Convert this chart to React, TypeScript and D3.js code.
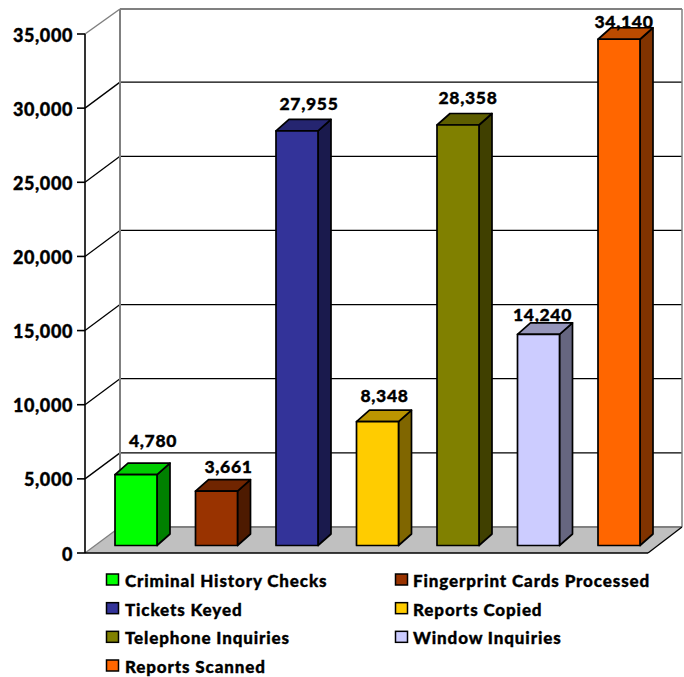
import React from "react";
import * as d3 from "d3";

const categories = ["Criminal History Checks", "Fingerprint Cards Processed", "Tickets Keyed", "Reports Copied", "Telephone Inquiries", "Window Inquiries", "Reports Scanned"];
const values = [4780, 3661, 27955, 8348, 28358, 14240, 34140];
const frontColors = ["#00ff00", "#993300", "#333399", "#ffcc00", "#808000", "#ccccff", "#ff6600"];
const topColors = ["#00cc00", "#702500", "#252570", "#bb9500", "#5e5e00", "#9696bb", "#bb4b00"];
const sideColors = ["#008000", "#4d1a00", "#1a1a4d", "#806600", "#404000", "#666680", "#803300"];
const ticks = [0, 5000, 10000, 15000, 20000, 25000, 30000, 35000];
const FONT = "Lato, 'Open Sans', sans-serif";

// hand-placed data label nudges (as in the reference)
const labelShiftX = [17, 12, 12, 7, 10, 4, 5];
const labelShiftY = [28, 18, 21, 20, 21, 13, 11];

const y = d3.scaleLinear().domain([0, 35000]).range([553, 34]);
const barY = d3.scaleLinear().domain([0, 35000]).range([545.5, 26.5]);
const barX = d3.scaleLinear().domain([0, 6]).range([115, 598]);
const legX = d3.scaleOrdinal<number, number>().domain([0, 1]).range([106.5, 395.5]);
const legY = d3.scaleLinear().domain([0, 3]).range([581, 667]);
const fmt = d3.format(",");
const L = 85, BX = 120, R = 648, BR = 682, D = 26, bw = 42, dx = 13, dy = 11.5;

const textStyle = { fontWeight: 900, fontFamily: FONT, fill: "#000", stroke: "#000", strokeWidth: 0.35 };

function Bar({ i }: { i: number }) {
  const x0 = barX(i);
  const x1 = x0 + bw;
  const t = barY(values[i]);
  const b = barY(0);
  const stroke = { stroke: "#000", strokeWidth: 1.7, strokeLinejoin: "round" as const };
  return (
    <g>
      <polygon points={`${x1},${t} ${x1 + dx},${t - dy} ${x1 + dx},${b - dy} ${x1},${b}`} fill={sideColors[i]} {...stroke} />
      <polygon points={`${x0},${t} ${x0 + dx},${t - dy} ${x1 + dx},${t - dy} ${x1},${t}`} fill={topColors[i]} {...stroke} />
      <rect x={x0} y={t} width={bw} height={b - t} fill={frontColors[i]} {...stroke} />
    </g>
  );
}

function BarLabel({ i }: { i: number }) {
  return (
    <text x={barX(i) + bw / 2 + labelShiftX[i]} y={barY(values[i]) - labelShiftY[i]} textAnchor="middle" fontSize={17.5} letterSpacing={0.7} {...textStyle}>{fmt(values[i])}</text>
  );
}

export default function App() {
  return (
    <svg width={684} height={677} style={{ position: "absolute", left: 0, top: 0, background: "#fff" }}>
      <polygon points={`${L},${y(0)} ${BX},${y(0) - D} ${BR},${y(0) - D} ${R},${y(0)}`} fill="#c0c0c0" />
      {ticks.slice(1, -1).map(v => (
        <g key={v}>
          <line x1={L} y1={y(v)} x2={BX} y2={y(v) - D} stroke="#000" strokeWidth={1.3} />
          <line x1={BX} y1={y(v) - D} x2={BR} y2={y(v) - D} stroke="#000" strokeWidth={1.3} />
        </g>
      ))}
      <line x1={L} y1={y(35000)} x2={BX} y2={y(35000) - D + 1} stroke="#808080" strokeWidth={1.5} />
      <line x1={BX} y1={y(35000) - D + 1} x2={BR} y2={y(35000) - D + 1} stroke="#808080" strokeWidth={2} />
      <line x1={BX} y1={y(35000) - D + 1} x2={BX} y2={y(0) - D} stroke="#808080" strokeWidth={2} />
      <line x1={BR} y1={y(35000) - D + 1} x2={BR} y2={y(0) - D} stroke="#808080" strokeWidth={1.5} />
      <line x1={BX} y1={y(0) - D} x2={BR} y2={y(0) - D} stroke="#808080" strokeWidth={2} />
      <line x1={L} y1={y(0)} x2={BX} y2={y(0) - D} stroke="#808080" strokeWidth={1.3} />
      <line x1={R} y1={y(0)} x2={BR} y2={y(0) - D} stroke="#000" strokeWidth={1.3} />
      <line x1={L} y1={y(35000)} x2={L} y2={y(0)} stroke="#000" strokeWidth={1.6} />
      <line x1={L} y1={y(0)} x2={R} y2={y(0)} stroke="#000" strokeWidth={1.6} />
      {ticks.map(v => (
        <g key={v}>
          <line x1={77} y1={y(v)} x2={L} y2={y(v)} stroke="#000" strokeWidth={1.6} />
          <text x={73} y={y(v) + 7.5} textAnchor="end" fontSize={18} letterSpacing={0.6} {...textStyle}>{fmt(v)}</text>
        </g>
      ))}
      {values.map((_, i) => <Bar key={i} i={i} />)}
      {values.map((_, i) => <BarLabel key={i} i={i} />)}
      {categories.map((c, i) => {
        const row = Math.floor(i / 2);
        const cx = legX(i % 2);
        return (
          <g key={c}>
            <rect x={cx} y={legY(row) - 7} width={12} height={11} fill={frontColors[i]} stroke="#000" strokeWidth={1.5} />
            <text x={i % 2 ? 413 : 125} y={legY(row) + 6} fontSize={17} letterSpacing={i % 2 ? 0.87 : 0.86} {...textStyle}>{c}</text>
          </g>
        );
      })}
    </svg>
  );
}
